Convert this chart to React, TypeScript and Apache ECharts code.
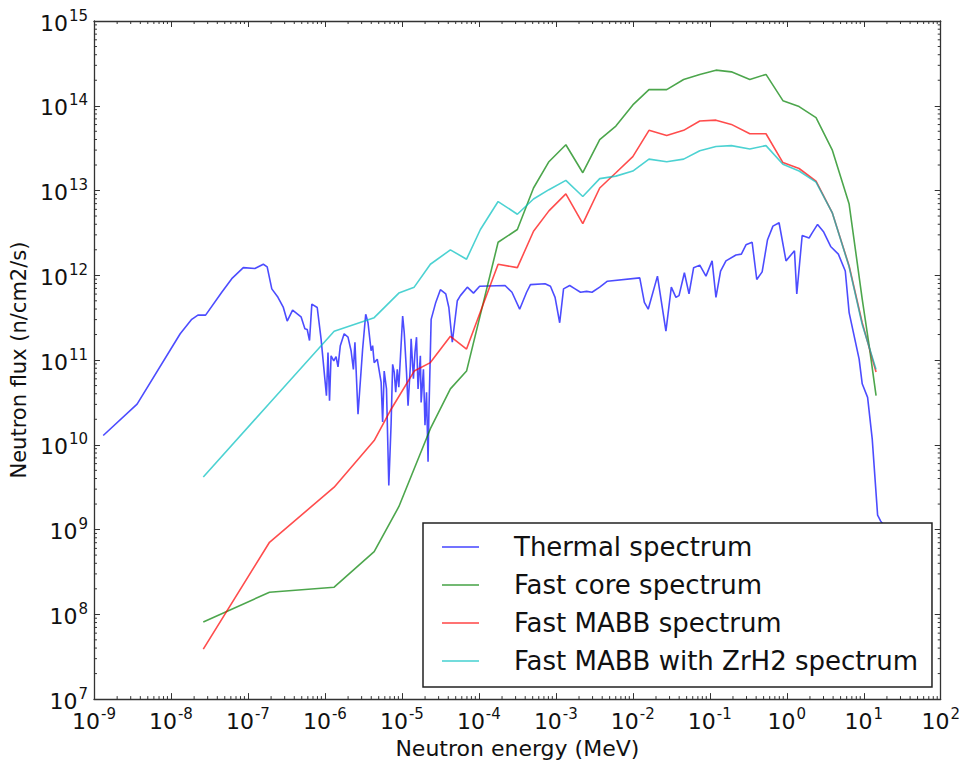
import React, { useEffect, useRef } from 'react';
import * as echarts from 'echarts';

// ---- Data (log10 of energy in MeV, log10 of flux in n/cm2/s) ----
const seriesNames = [
  'Thermal spectrum',
  'Fast core spectrum',
  'Fast MABB spectrum',
  'Fast MABB with ZrH2 spectrum',
];

const thermalLogE = [
  -8.88, -8.44, -7.88, -7.73, -7.65, -7.55, -7.34, -7.21, -7.06, -6.91, -6.80, -6.75, -6.69, -6.61, -6.54,
  -6.49, -6.42, -6.31, -6.26, -6.23, -6.20, -6.17, -6.10, -6.05, -5.98, -5.96, -5.94, -5.92, -5.885, -5.855,
  -5.83, -5.80, -5.75, -5.70, -5.66, -5.63, -5.61, -5.57, -5.51, -5.47, -5.44, -5.40, -5.38, -5.36, -5.32,
  -5.27, -5.25, -5.23, -5.20, -5.17, -5.14, -5.12, -5.10, -5.08, -5.06, -5.04, -4.99, -4.97, -4.94, -4.92,
  -4.89, -4.88, -4.85, -4.83, -4.81, -4.79, -4.76, -4.75, -4.72, -4.70, -4.68, -4.66, -4.65, -4.62, -4.56,
  -4.50, -4.43, -4.39, -4.345, -4.28, -4.24, -4.15, -4.07, -3.99, -3.66, -3.57, -3.47, -3.38, -3.33, -3.14,
  -3.07, -3.01, -2.95, -2.90, -2.82, -2.75, -2.68, -2.60, -2.53, -2.43, -2.33, -1.91, -1.85, -1.80, -1.68,
  -1.57, -1.50, -1.44, -1.40, -1.33, -1.27, -1.21, -1.13, -1.05, -0.97, -0.92, -0.86, -0.79, -0.66, -0.59,
  -0.53, -0.45, -0.39, -0.32, -0.25, -0.18, -0.10, -0.01, 0.10, 0.13, 0.20, 0.29, 0.33, 0.40, 0.48,
  0.57, 0.67, 0.76, 0.81, 0.94, 0.98, 1.05, 1.11, 1.18, 1.22, 1.30,
];
const thermalLogFlux = [
  10.11, 10.48, 11.31, 11.48, 11.53, 11.53, 11.80, 11.96, 12.09, 12.08, 12.13, 12.10, 11.84, 11.74, 11.62,
  11.46, 11.59, 11.51, 11.37, 11.36, 11.23, 11.66, 11.62, 11.25, 10.58, 11.09, 10.52, 11.05, 10.99, 11.04,
  10.92, 11.17, 11.31, 11.27, 11.11, 10.89, 11.21, 10.36, 11.13, 11.54, 11.44, 11.11, 11.17, 10.97, 11.01,
  10.74, 10.27, 10.87, 10.66, 9.52, 10.25, 10.95, 10.86, 10.62, 10.89, 10.68, 11.52, 11.33, 10.86, 10.46,
  10.93, 11.25, 10.78, 11.09, 11.27, 10.66, 11.05, 10.50, 10.89, 10.23, 10.62, 9.80, 10.34, 11.48, 11.68,
  11.83, 11.78, 11.62, 11.21, 11.70, 11.76, 11.86, 11.79, 11.87, 11.88, 11.80, 11.60, 11.80, 11.89, 11.90,
  11.87, 11.74, 11.44, 11.84, 11.88, 11.84, 11.80, 11.81, 11.80, 11.86, 11.93, 11.97, 11.68, 11.60, 11.99,
  11.34, 11.86, 11.74, 11.76, 12.03, 11.78, 12.09, 12.12, 11.99, 12.17, 11.74, 12.05, 12.17, 12.24, 12.25,
  12.36, 12.39, 11.95, 12.04, 12.42, 12.58, 12.62, 12.17, 12.29, 11.78, 12.47, 12.44, 12.50, 12.60, 12.51,
  12.34, 12.25, 12.05, 11.56, 11.01, 10.72, 10.56, 10.07, 9.17, 9.10, 9.00,
];

const fastCoreLogE = [
  -7.58, -6.72, -5.88, -5.36, -5.04, -4.63, -4.37, -4.16, -3.75, -3.50, -3.29, -3.09, -2.87, -2.65, -2.43,
  -2.22, -2.00, -1.79, -1.56, -1.34, -1.13, -0.92, -0.72, -0.48, -0.27, -0.05, 0.16, 0.38, 0.59, 0.81,
  0.98, 1.07, 1.16,
];
const fastCoreLogFlux = [
  7.91, 8.26, 8.32, 8.74, 9.27, 10.19, 10.66, 10.87, 12.39, 12.54, 13.03, 13.34, 13.54, 13.21, 13.60,
  13.76, 14.01, 14.19, 14.19, 14.31, 14.37, 14.42, 14.40, 14.31, 14.37, 14.06, 13.99, 13.86, 13.48, 12.84,
  11.72, 11.17, 10.58,
];

const mabbLogE = [
  -7.58, -6.72, -5.88, -5.36, -5.14, -4.84, -4.63, -4.37, -4.16, -3.75, -3.50, -3.29, -3.09, -2.87, -2.65,
  -2.43, -2.22, -2.00, -1.79, -1.56, -1.34, -1.13, -0.92, -0.72, -0.48, -0.27, -0.05, 0.16, 0.38, 0.59,
  0.81, 0.98, 1.16,
];
const mabbLogFlux = [
  7.59, 8.85, 9.50, 10.05, 10.42, 10.87, 10.97, 11.28, 11.13, 12.13, 12.09, 12.52, 12.76, 12.96, 12.61,
  13.03, 13.21, 13.40, 13.71, 13.65, 13.71, 13.82, 13.83, 13.78, 13.67, 13.67, 13.33, 13.26, 13.11, 12.74,
  12.11, 11.44, 10.86,
];

const zrh2LogE = [
  -7.58, -6.72, -5.88, -5.36, -5.04, -4.84, -4.63, -4.37, -4.16, -3.98, -3.75, -3.50, -3.29, -3.09, -2.87,
  -2.65, -2.43, -2.22, -2.00, -1.79, -1.56, -1.34, -1.13, -0.92, -0.72, -0.48, -0.27, -0.05, 0.16, 0.38,
  0.59, 0.81, 0.98, 1.16,
];
const zrh2LogFlux = [
  9.62, 10.49, 11.34, 11.50, 11.79, 11.86, 12.13, 12.30, 12.19, 12.54, 12.87, 12.72, 12.90, 13.01, 13.12,
  12.93, 13.14, 13.17, 13.23, 13.37, 13.34, 13.37, 13.47, 13.52, 13.53, 13.49, 13.53, 13.31, 13.23, 13.10,
  12.74, 12.10, 11.42, 10.89,
];

// Axis extents (decades)
const xMinExp = -9;
const xMaxExp = 2;
const yMinExp = 7;
const yMaxExp = 15;

const seriesColors = ['#0000ff', '#008000', '#ff0000', '#00bfbf'];

const FONT = 'DejaVu Sans';

function pairs(xs: number[], ys: number[]) {
  return xs.map((x, i) => [x, ys[i]]);
}

export default function App() {
  const ref = useRef<HTMLDivElement>(null);

  useEffect(() => {
    document.body.style.margin = '0';
    if (!ref.current) return;
    const chart = echarts.init(ref.current, undefined, { renderer: 'svg' });

    const minorX: number[][] = [];
    for (let n = xMinExp; n < xMaxExp; n++) {
      for (let k = 2; k <= 9; k++) minorX.push([n + Math.log10(k), yMinExp]);
    }
    const minorY: number[][] = [];
    for (let n = yMinExp; n < yMaxExp; n++) {
      for (let k = 2; k <= 9; k++) minorY.push([xMinExp, n + Math.log10(k)]);
    }

    const axisColor = '#333';
    const labelRich = {
      b: { fontSize: 22, fontFamily: FONT, color: '#111', verticalAlign: 'bottom' as const },
      s: { fontSize: 15, fontFamily: FONT, color: '#111', verticalAlign: 'bottom' as const, padding: [0, 0, 11, 1] },
    };
    const fmt = (v: number) => `{b|10}{s|${Math.round(v)}}`;

    const dataSets = [
      pairs(thermalLogE, thermalLogFlux),
      pairs(fastCoreLogE, fastCoreLogFlux),
      pairs(mabbLogE, mabbLogFlux),
      pairs(zrh2LogE, zrh2LogFlux),
    ];

    const tickStyle = { stroke: axisColor, lineWidth: 1 };

    chart.setOption({
      animation: false,
      backgroundColor: '#fff',
      grid: { left: 92, top: 21, right: 21, bottom: 63, containLabel: false },
      xAxis: [
        {
          type: 'value',
          min: xMinExp,
          max: xMaxExp,
          interval: 1,
          position: 'bottom',
          name: 'Neutron energy (MeV)',
          nameLocation: 'middle',
          nameGap: 34,
          nameTextStyle: { fontSize: 22, fontFamily: FONT, color: '#111' },
          axisLine: { show: true, onZero: false, lineStyle: { color: axisColor, width: 1.3 } },
          axisTick: { show: true, inside: true, length: 6, lineStyle: { color: axisColor, width: 1 } },
          axisLabel: { show: true, margin: 7, formatter: fmt, rich: labelRich, showMinLabel: true, showMaxLabel: true },
          splitLine: { show: false },
        },
        {
          type: 'value',
          min: xMinExp,
          max: xMaxExp,
          interval: 1,
          position: 'top',
          axisLine: { show: true, onZero: false, lineStyle: { color: axisColor, width: 1.3 } },
          axisTick: { show: true, inside: true, length: 6, lineStyle: { color: axisColor, width: 1 } },
          axisLabel: { show: false },
          splitLine: { show: false },
        },
      ],
      yAxis: [
        {
          type: 'value',
          min: yMinExp,
          max: yMaxExp,
          interval: 1,
          position: 'left',
          name: 'Neutron flux (n/cm2/s)',
          nameLocation: 'middle',
          nameGap: 62,
          nameTextStyle: { fontSize: 21, fontFamily: FONT, color: '#111' },
          axisLine: { show: true, onZero: false, lineStyle: { color: axisColor, width: 1.3 } },
          axisTick: { show: true, inside: true, length: 6, lineStyle: { color: axisColor, width: 1 } },
          axisLabel: { show: true, margin: 6, formatter: fmt, rich: labelRich, showMinLabel: true, showMaxLabel: true },
          splitLine: { show: false },
        },
        {
          type: 'value',
          min: yMinExp,
          max: yMaxExp,
          interval: 1,
          position: 'right',
          axisLine: { show: true, onZero: false, lineStyle: { color: axisColor, width: 1.3 } },
          axisTick: { show: true, inside: true, length: 6, lineStyle: { color: axisColor, width: 1 } },
          axisLabel: { show: false },
          splitLine: { show: false },
        },
      ],
      legend: {
        data: seriesNames,
        orient: 'vertical',
        left: 423,
        top: 523,
        padding: [11, 14, 13, 19],
        itemGap: 12,
        itemWidth: 37,
        itemHeight: 2,
        icon: 'path://M0,0 L37,0 L37,2 L0,2 Z',
        backgroundColor: '#fff',
        borderColor: '#222',
        borderWidth: 1.5,
        borderRadius: 0,
        textStyle: { fontSize: 26, fontFamily: FONT, color: '#111', lineHeight: 26, padding: [0, 0, 0, 30] },
      },
      series: [
        ...dataSets.map((d, i) => ({
          name: seriesNames[i],
          type: 'line',
          data: d,
          symbol: 'none',
          showSymbol: false,
          xAxisIndex: 0,
          yAxisIndex: 0,
          lineStyle: { color: seriesColors[i], width: 1.6, opacity: 0.7 },
          itemStyle: { color: seriesColors[i], opacity: 0.55 },
          z: 2 + i * 0.1,
        })),
        {
          type: 'custom',
          name: 'minorX',
          silent: true,
          xAxisIndex: 0,
          yAxisIndex: 0,
          z: 5,
          data: minorX,
          renderItem: (params: any, api: any) => {
            const p = api.coord([api.value(0), api.value(1)]);
            const cs = params.coordSys;
            return {
              type: 'group',
              children: [
                { type: 'line', shape: { x1: p[0], y1: cs.y + cs.height, x2: p[0], y2: cs.y + cs.height - 3 }, style: tickStyle },
                { type: 'line', shape: { x1: p[0], y1: cs.y, x2: p[0], y2: cs.y + 3 }, style: tickStyle },
              ],
            };
          },
        },
        {
          type: 'custom',
          name: 'minorY',
          silent: true,
          xAxisIndex: 0,
          yAxisIndex: 0,
          z: 5,
          data: minorY,
          renderItem: (params: any, api: any) => {
            const p = api.coord([api.value(0), api.value(1)]);
            const cs = params.coordSys;
            return {
              type: 'group',
              children: [
                { type: 'line', shape: { x1: cs.x, y1: p[1], x2: cs.x + 3, y2: p[1] }, style: tickStyle },
                { type: 'line', shape: { x1: cs.x + cs.width, y1: p[1], x2: cs.x + cs.width - 3, y2: p[1] }, style: tickStyle },
              ],
            };
          },
        },
      ],
    });

    return () => chart.dispose();
  }, []);

  return <div ref={ref} style={{ width: 963, height: 764 }} />;
}
